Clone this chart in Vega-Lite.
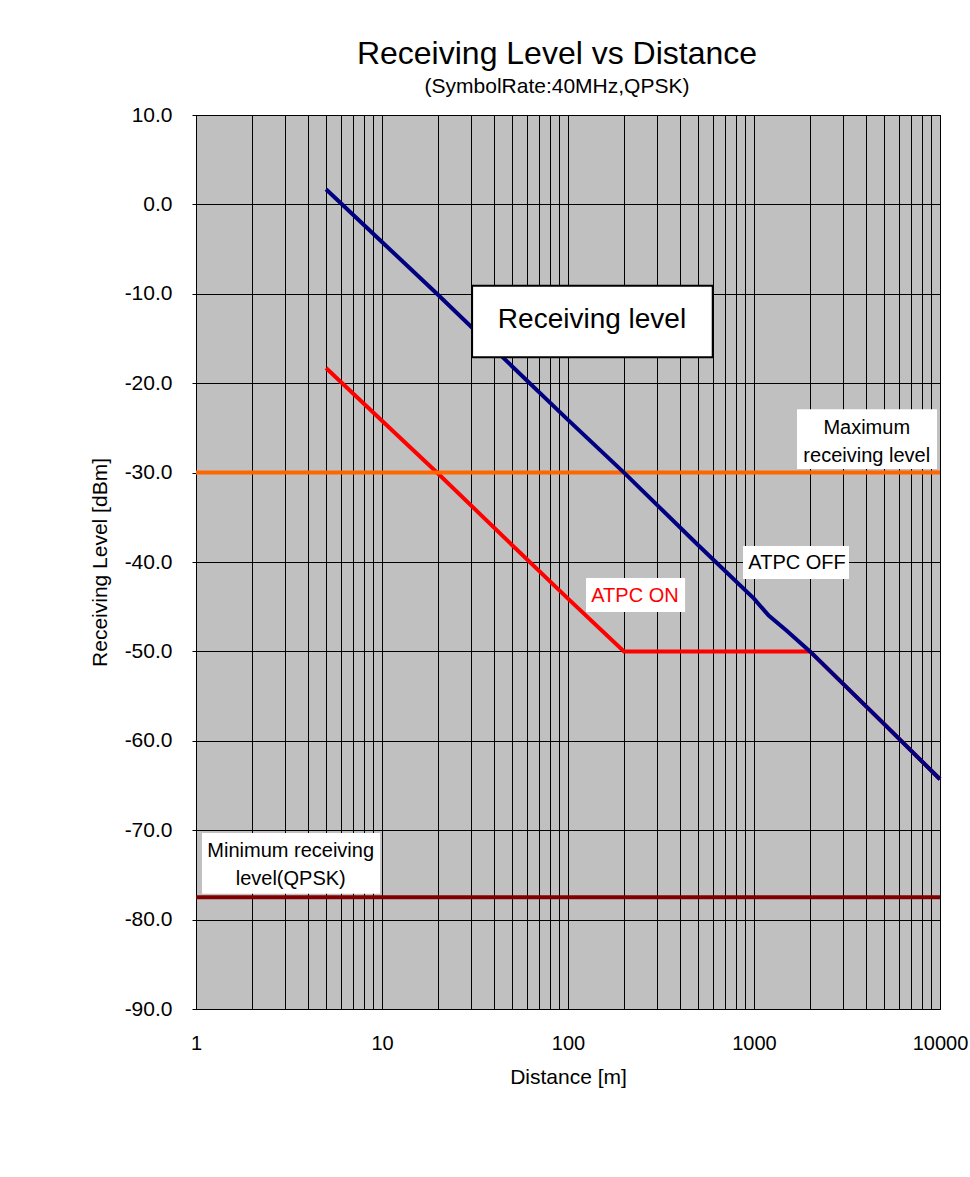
{
  "$schema": "https://vega.github.io/schema/vega-lite/v6.json",
  "width": 744,
  "height": 894,
  "autosize": "none",
  "padding": {"left": 196, "top": 115, "right": 30, "bottom": 168},
  "background": "white",
  "title": {
    "text": "Receiving Level vs Distance",
    "subtitle": "(SymbolRate:40MHz,QPSK)",
    "font": "Liberation Sans",
    "fontSize": 32,
    "fontWeight": "normal",
    "color": "black",
    "subtitleFont": "Liberation Sans",
    "subtitleFontSize": 21,
    "subtitleColor": "black",
    "subtitlePadding": 5,
    "anchor": "middle",
    "dx": -11,
    "offset": 6
  },
  "config": {
    "view": {"fill": "#c0c0c0", "stroke": "black", "strokeWidth": 1},
    "font": "Liberation Sans"
  },
  "datasets": {
    "levels": [
      {"name": "Maximum receiving level", "level": -30},
      {"name": "Minimum receiving level(QPSK)", "level": -77.5}
    ],
    "curves": [
      {"series": "ATPC ON", "distance": 5, "level": -18.3},
      {"series": "ATPC ON", "distance": 10, "level": -24.2},
      {"series": "ATPC ON", "distance": 20, "level": -30.1},
      {"series": "ATPC ON", "distance": 50, "level": -38.1},
      {"series": "ATPC ON", "distance": 100, "level": -44.1},
      {"series": "ATPC ON", "distance": 200, "level": -50.0},
      {"series": "ATPC ON", "distance": 500, "level": -50.0},
      {"series": "ATPC ON", "distance": 1000, "level": -50.0},
      {"series": "ATPC ON", "distance": 2000, "level": -50.0},
      {"series": "ATPC ON", "distance": 5000, "level": -58.1},
      {"series": "ATPC ON", "distance": 10000, "level": -64.3},
      {"series": "ATPC OFF", "distance": 5, "level": 1.7},
      {"series": "ATPC OFF", "distance": 10, "level": -4.2},
      {"series": "ATPC OFF", "distance": 20, "level": -10.1},
      {"series": "ATPC OFF", "distance": 50, "level": -18.1},
      {"series": "ATPC OFF", "distance": 100, "level": -24.1},
      {"series": "ATPC OFF", "distance": 200, "level": -30.0},
      {"series": "ATPC OFF", "distance": 500, "level": -38.1},
      {"series": "ATPC OFF", "distance": 1000, "level": -44.1},
      {"series": "ATPC OFF", "distance": 1200, "level": -46.0},
      {"series": "ATPC OFF", "distance": 1500, "level": -47.7},
      {"series": "ATPC OFF", "distance": 2000, "level": -50.0},
      {"series": "ATPC OFF", "distance": 5000, "level": -58.1},
      {"series": "ATPC OFF", "distance": 10000, "level": -64.3}
    ],
    "boxes": [
      {"label": "Receiving level", "framed": true, "distance": 30.5, "distance2": 600, "level": -9.1, "level2": -17.1},
      {"label": "Maximum receiving level", "framed": false, "distance": 1703, "distance2": 9638, "level": -22.9, "level2": -29.6},
      {"label": "ATPC OFF", "framed": false, "distance": 873, "distance2": 3243, "level": -38.2, "level2": -41.9},
      {"label": "ATPC ON", "framed": false, "distance": 125, "distance2": 426, "level": -41.8, "level2": -45.6},
      {"label": "Minimum receiving level(QPSK)", "framed": false, "distance": 1.077, "distance2": 9.76, "level": -70.3, "level2": -77.1}
    ],
    "labels": [
      {"text": "Receiving level", "group": "big", "distance": 134.6, "level": -12.95},
      {"text": "Maximum\nreceiving level", "group": "black", "distance": 4036, "level": -25.0},
      {"text": "ATPC OFF", "group": "black", "distance": 1703, "level": -40.1},
      {"text": "ATPC ON", "group": "red", "distance": 229, "level": -43.8},
      {"text": "Minimum receiving\nlevel(QPSK)", "group": "black", "distance": 3.23, "level": -72.3}
    ]
  },
  "layer": [
    {
      "data": {"name": "curves"},
      "transform": [{"filter": "datum.series === 'ATPC ON'"}],
      "mark": {"type": "line", "color": "#ff0000", "strokeWidth": 4},
      "encoding": {
        "x": {
          "field": "distance",
          "type": "quantitative",
          "scale": {"type": "log", "domain": [1, 10000], "nice": false},
          "axis": {
            "title": "Distance [m]",
            "titleFont": "Liberation Sans",
            "titleFontSize": 21,
            "titleFontWeight": "normal",
            "titleColor": "black",
            "titlePadding": 13,
            "values": [1, 2, 3, 4, 5, 6, 7, 8, 9, 10, 20, 30, 40, 50, 60, 70, 80, 90, 100, 200, 300, 400, 500, 600, 700, 800, 900, 1000, 2000, 3000, 4000, 5000, 6000, 7000, 8000, 9000, 10000],
            "labelExpr": "datum.value === 1 || datum.value === 10 || datum.value === 100 || datum.value === 1000 || datum.value === 10000 ? format(datum.value, 'd') : ''",
            "labelFont": "Liberation Sans",
            "labelFontSize": 20,
            "labelColor": "black",
            "labelPadding": 24,
            "labelOverlap": false,
            "labelFlush": false,
            "ticks": false,
            "domain": true,
            "domainColor": "black",
            "grid": true,
            "gridColor": "black",
            "gridWidth": 1,
            "gridOpacity": 1
          }
        },
        "y": {
          "field": "level",
          "type": "quantitative",
          "scale": {"domain": [-90, 10], "nice": false, "zero": false},
          "axis": {
            "title": "Receiving Level [dBm]",
            "titleFont": "Liberation Sans",
            "titleFontSize": 21,
            "titleFontWeight": "normal",
            "titleColor": "black",
            "titlePadding": 14,
            "values": [-90, -80, -70, -60, -50, -40, -30, -20, -10, 0, 10],
            "labelExpr": "replace(format(datum.value, '.1f'), '\u2212', '-')",
            "labelFont": "Liberation Sans",
            "labelFontSize": 21,
            "labelColor": "black",
            "labelPadding": 20,
            "tickSize": 4,
            "tickColor": "black",
            "domain": true,
            "domainColor": "black",
            "grid": true,
            "gridColor": "black",
            "gridWidth": 1,
            "gridOpacity": 1
          }
        }
      }
    },
    {
      "data": {"name": "levels"},
      "mark": {"type": "rule", "strokeWidth": 4},
      "encoding": {
        "y": {"field": "level", "type": "quantitative"},
        "color": {
          "field": "name",
          "type": "nominal",
          "scale": {"domain": ["Maximum receiving level", "Minimum receiving level(QPSK)"], "range": ["#ff6600", "#800000"]},
          "legend": null
        }
      }
    },
    {
      "data": {"name": "curves"},
      "transform": [{"filter": "datum.series === 'ATPC OFF'"}],
      "mark": {"type": "line", "color": "#000080", "strokeWidth": 4},
      "encoding": {
        "x": {"field": "distance", "type": "quantitative"},
        "y": {"field": "level", "type": "quantitative"}
      }
    },
    {
      "data": {"name": "boxes"},
      "transform": [{"filter": "datum.framed"}],
      "mark": {"type": "rect", "fill": "white", "stroke": "black", "strokeWidth": 2},
      "encoding": {
        "x": {"field": "distance", "type": "quantitative"},
        "x2": {"field": "distance2"},
        "y": {"field": "level", "type": "quantitative"},
        "y2": {"field": "level2"}
      }
    },
    {
      "data": {"name": "boxes"},
      "transform": [{"filter": "!datum.framed"}],
      "mark": {"type": "rect", "fill": "white"},
      "encoding": {
        "x": {"field": "distance", "type": "quantitative"},
        "x2": {"field": "distance2"},
        "y": {"field": "level", "type": "quantitative"},
        "y2": {"field": "level2"}
      }
    },
    {
      "data": {"name": "labels"},
      "transform": [{"filter": "datum.group === 'big'"}],
      "mark": {"type": "text", "font": "Liberation Sans", "fontSize": 28, "color": "black", "align": "center", "baseline": "middle"},
      "encoding": {
        "x": {"field": "distance", "type": "quantitative"},
        "y": {"field": "level", "type": "quantitative"},
        "text": {"field": "text"}
      }
    },
    {
      "data": {"name": "labels"},
      "transform": [{"filter": "datum.group === 'black'"}],
      "mark": {"type": "text", "font": "Liberation Sans", "fontSize": 20, "color": "black", "align": "center", "baseline": "middle", "lineBreak": "\n", "lineHeight": 28},
      "encoding": {
        "x": {"field": "distance", "type": "quantitative"},
        "y": {"field": "level", "type": "quantitative"},
        "text": {"field": "text"}
      }
    },
    {
      "data": {"name": "labels"},
      "transform": [{"filter": "datum.group === 'red'"}],
      "mark": {"type": "text", "font": "Liberation Sans", "fontSize": 20, "color": "#ff0000", "align": "center", "baseline": "middle"},
      "encoding": {
        "x": {"field": "distance", "type": "quantitative"},
        "y": {"field": "level", "type": "quantitative"},
        "text": {"field": "text"}
      }
    }
  ]
}
